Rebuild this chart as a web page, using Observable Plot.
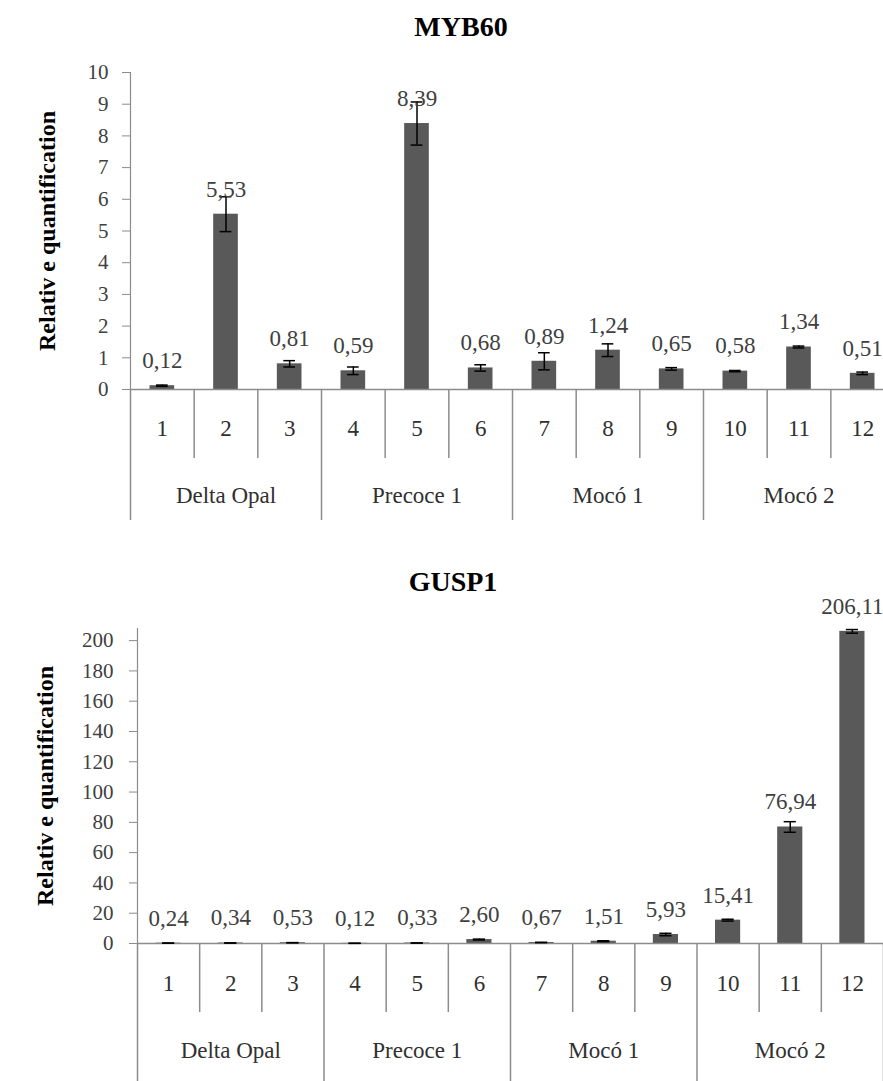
<!DOCTYPE html>
<html>
<head>
<meta charset="utf-8">
<script src="https://cdn.jsdelivr.net/npm/d3@7"></script>
<script src="https://cdn.jsdelivr.net/npm/@observablehq/plot@0.6"></script>
<style>
html, body { margin: 0; padding: 0; background: #fff; overflow: hidden; }
#root { position: relative; width: 883px; height: 1081px; overflow: hidden; font-family: "Liberation Serif", "Times New Roman", "DejaVu Serif", serif; }
.title { position: absolute; font-weight: bold; font-size: 28px; color: #000; transform: translate(-50%, -50%); white-space: nowrap; font-family: "Liberation Serif", "Times New Roman", "DejaVu Serif", serif; }
.chart { position: absolute; left: 0; }
.chart text { font-family: "Liberation Serif", "Times New Roman", "DejaVu Serif", serif !important; }
</style>
</head>
<body>
<div id="root"></div>
<script>
// ---- data ----
const samples = ["1", "2", "3", "4", "5", "6", "7", "8", "9", "10", "11", "12"];
const sampleGroups = ["Delta Opal", "Delta Opal", "Delta Opal", "Precoce 1", "Precoce 1", "Precoce 1",
                      "Mocó 1", "Mocó 1", "Mocó 1", "Mocó 2", "Mocó 2", "Mocó 2"];
const myb60Title = "MYB60";
const myb60Values = [0.12, 5.53, 0.81, 0.59, 8.39, 0.68, 0.89, 1.24, 0.65, 0.58, 1.34, 0.51];
const myb60Errors = [0.02, 0.55, 0.10, 0.12, 0.68, 0.10, 0.27, 0.20, 0.04, 0.02, 0.03, 0.04];
const myb60Ticks = [0, 1, 2, 3, 4, 5, 6, 7, 8, 9, 10];
const gusp1Title = "GUSP1";
const gusp1Values = [0.24, 0.34, 0.53, 0.12, 0.33, 2.60, 0.67, 1.51, 5.93, 15.41, 76.94, 206.11];
const gusp1Errors = [0.03, 0.04, 0.06, 0.02, 0.04, 0.30, 0.08, 0.30, 0.80, 0.60, 3.50, 1.20];
const gusp1Ticks = [0, 20, 40, 60, 80, 100, 120, 140, 160, 180, 200];
const yLabel = "Relativ e quantification";

const root = document.getElementById("root");
const serif = "'Liberation Serif', 'Times New Roman', 'DejaVu Serif', serif";
const gridColor = "#8c8c8c";
const barColor = "#595959";
const fmt = v => v.toFixed(2).replace(".", ",");

function makeChart(cfg) {
  const rows = samples.map((s, i) => ({
    sample: s, pos: i + 1, group: sampleGroups[i],
    value: cfg.values[i], err: cfg.errors[i], label: fmt(cfg.values[i])
  }));
  const bounds = [rows[0].pos - 0.5, ...rows.map(r => r.pos + 0.5)];
  const sameGroup = i => i > 0 && i < rows.length && rows[i].group === rows[i - 1].group;
  const innerBounds = bounds.filter((b, i) => sameGroup(i));
  const groupBounds = bounds.filter((b, i) => !sameGroup(i));
  const groupCenters = d3.rollups(rows, v => d3.mean(v, d => d.pos), d => d.group);

  const svg = Plot.plot({
    width: cfg.width, height: cfg.height,
    marginLeft: cfg.marginLeft, marginRight: cfg.marginRight,
    marginTop: cfg.marginTop, marginBottom: cfg.marginBottom,
    style: `background: transparent; overflow: visible; max-width: none; font-family: ${serif};`,
    x: {domain: [bounds[0], bounds[bounds.length - 1]], axis: null},
    y: {domain: [0, cfg.yMax], axis: null},
    marks: [
      Plot.frame({anchor: "left", stroke: gridColor, strokeWidth: 1.2}),
      Plot.axisY({ticks: cfg.ticks, tickSize: 8, tickPadding: cfg.tickPadding, stroke: gridColor,
                  fill: "#404040", fontSize: 21, fontFamily: serif, label: null, tickFormat: d => String(d)}),
      Plot.rectY(rows, {x1: d => d.pos - 0.5, x2: d => d.pos + 0.5, y: "value", fill: barColor,
                        insetLeft: cfg.barInset, insetRight: cfg.barInset}),
      Plot.ruleY([0], {stroke: gridColor, strokeWidth: 1.5}),
      Plot.ruleX(innerBounds, {x: d => d, y1: 0, y2: 0, insetTop: cfg.rowDepth, stroke: gridColor, strokeWidth: 1.5}),
      Plot.ruleX(groupBounds, {x: d => d, y1: 0, y2: 0, insetTop: cfg.groupDepth, stroke: gridColor, strokeWidth: 1.5}),
      Plot.ruleX(rows, {x: "pos", y1: d => d.value - d.err, y2: d => d.value + d.err, stroke: "#000", strokeWidth: 1.5}),
      Plot.ruleY(rows, {y: d => d.value + d.err, x1: d => d.pos - 0.5, x2: d => d.pos + 0.5,
                        insetLeft: cfg.capInset, insetRight: cfg.capInset, stroke: "#000", strokeWidth: 1.5}),
      Plot.ruleY(rows, {y: d => d.value - d.err, x1: d => d.pos - 0.5, x2: d => d.pos + 0.5,
                        insetLeft: cfg.capInset, insetRight: cfg.capInset, stroke: "#000", strokeWidth: 1.5}),
      Plot.text(rows, {x: "pos", y: "value", text: "label", dy: -25, fontSize: 23, fontFamily: serif, fill: "#404040"}),
      Plot.text(rows, {x: "pos", y: 0, text: "sample", dy: cfg.rowText, fontSize: 23, fontFamily: serif, fill: "#303030"}),
      Plot.text(groupCenters, {x: d => d[1], y: 0, text: d => d[0], dy: cfg.groupText, fontSize: 23, fontFamily: serif, fill: "#303030"}),
      Plot.text([yLabel], {frameAnchor: "left", textAnchor: "middle", rotate: -90, dx: cfg.labelDx,
                           fontWeight: "bold", fontSize: 24, fontFamily: serif, fill: "#000"})
    ]
  });
  svg.classList.add("chart");
  svg.style.top = cfg.top + "px";
  svg.style.position = "absolute";
  svg.style.left = "0px";
  root.appendChild(svg);

  const t = document.createElement("div");
  t.className = "title";
  t.textContent = cfg.title;
  t.style.left = cfg.titleX + "px";
  t.style.top = cfg.titleY + "px";
  root.appendChild(t);
}

makeChart({
  title: myb60Title, titleX: 461, titleY: 27,
  values: myb60Values, errors: myb60Errors, ticks: myb60Ticks, yMax: 10,
  top: 0, width: 894, height: 530, marginLeft: 130, marginRight: 0, marginTop: 72, marginBottom: 141,
  tickPadding: 14, barInset: 19.5, capInset: 26, rowDepth: 69, groupDepth: 131,
  rowText: 39, groupText: 106, labelDx: -83
});

makeChart({
  title: gusp1Title, titleX: 453, titleY: 582,
  values: gusp1Values, errors: gusp1Errors, ticks: gusp1Ticks, yMax: 208,
  top: 560, width: 883, height: 521, marginLeft: 137, marginRight: 0, marginTop: 68, marginBottom: 138,
  tickPadding: 16, barInset: 18.5, capInset: 25, rowDepth: 69, groupDepth: 140,
  rowText: 40, groupText: 107, labelDx: -92
});
</script>
</body>
</html>
